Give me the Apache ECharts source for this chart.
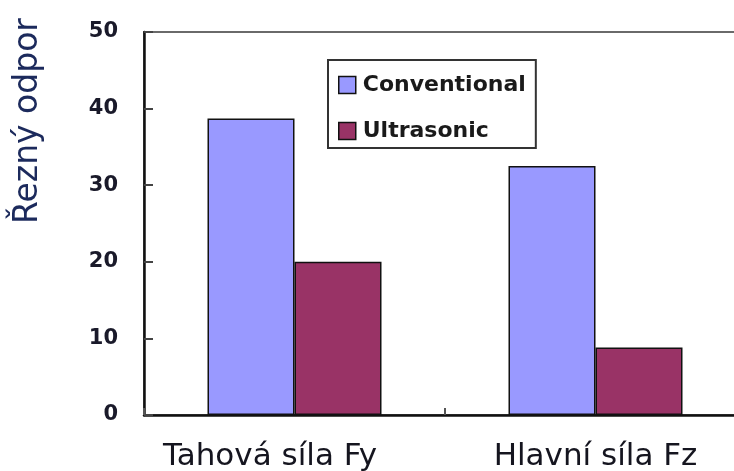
<!DOCTYPE html>
<html>
<head>
<meta charset="utf-8">
<script src="https://cdn.jsdelivr.net/npm/echarts@6/dist/echarts.min.js"></script>
<style>html,body{margin:0;padding:0;background:#fff;}#c{width:734px;height:471px;}</style>
</head>
<body>
<div id="c"></div>
<script>
const categories = ['Tahová síla Fy', 'Hlavní síla Fz'];
const seriesNames = ['Conventional', 'Ultrasonic'];
const conventional = [38.7, 32.5];
const ultrasonic = [20.0, 8.8];
const yTicks = [0, 10, 20, 30, 40, 50];
const yTitle = 'Řezný odpor';

const chart = echarts.init(document.getElementById('c'), null, {renderer: 'canvas'});
const option = {
  animation: false,
  backgroundColor: '#fff',
  grid: {left: 144, top: 32, width: 602, bottom: 56, show: true, borderColor: '#6a6a6a', borderWidth: 2, containLabel: false, outerBoundsMode: 'none'},
  legend: {
    orient: 'vertical', left: 328, top: 60,
    padding: [14, 10, 6, 10],
    itemWidth: 17, itemHeight: 17, itemGap: 24,
    icon: 'rect',
    borderColor: '#333', borderWidth: 2,
    itemStyle: {borderColor: '#111', borderWidth: 1.5},
    textStyle: {fontFamily: 'DejaVu Sans', fontWeight: 'bold', fontSize: 22, color: '#1a1a1a', padding: [0, 0, 0, 2]},
    data: seriesNames
  },
  xAxis: {
    type: 'category',
    data: [
      {value: categories[0], textStyle: {padding: [0, 49, 0, 0]}},
      {value: categories[1]}
    ],
    boundaryGap: true,
    axisLine: {lineStyle: {color: '#111', width: 2.5}},
    axisTick: {show: true, inside: true, length: 7, lineStyle: {color: '#555', width: 2}},
    axisLabel: {fontFamily: 'DejaVu Sans', fontSize: 31, color: '#15151f', margin: 26}
  },
  yAxis: {
    type: 'value', min: 0, max: 50, interval: 10,
    axisLine: {show: true, lineStyle: {color: '#111', width: 2.5}},
    axisTick: {show: true, inside: true, length: 9, lineStyle: {color: '#444', width: 2}},
    splitLine: {show: false},
    axisLabel: {
      fontFamily: 'DejaVu Sans', fontWeight: 'bold', fontSize: 21, color: '#1a1a2a', margin: 26,
      formatter: function (v) { return yTicks.indexOf(v) >= 0 ? String(v) : ''; }
    }
  },
  graphic: [{
    type: 'text', x: 28, y: 121, rotation: Math.PI / 2,
    style: {text: yTitle, fontFamily: 'DejaVu Sans', fontSize: 33, fill: '#1c2a5c', textAlign: 'center', textVerticalAlign: 'middle'}
  }],
  series: [
    {name: seriesNames[0], type: 'bar', data: conventional, barWidth: 87, barGap: '0%',
     itemStyle: {color: '#9999FF', borderColor: '#111', borderWidth: 1.5}},
    {name: seriesNames[1], type: 'bar', data: ultrasonic, barWidth: 87, barGap: '0%',
     itemStyle: {color: '#993366', borderColor: '#111', borderWidth: 1.5}}
  ]
};
chart.setOption(option);
</script>
</body>
</html>
